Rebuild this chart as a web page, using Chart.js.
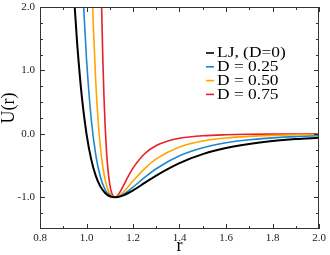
<!DOCTYPE html>
<html>
<head>
<meta charset="utf-8">
<script src="https://cdn.jsdelivr.net/npm/chart.js@4/dist/chart.umd.min.js"></script>
<style>
  body { margin: 0; background: #fff; }
  #wrap { width: 330px; height: 255px; }
</style>
</head>
<body>
<div id="wrap"><canvas id="potChart" width="330" height="255"></canvas></div>
<script>
// Series names and colours
const seriesLabels = ['LJ, (D=0)', 'D = 0.25', 'D = 0.50', 'D = 0.75'];
const seriesColors = ['#000000', '#1f88cc', '#ffa500', '#e8202a'];

// Values: r and U(r) per curve
const ljR = [0.94, 0.95, 0.96, 0.98, 1.00, 1.02, 1.04, 1.06, 1.08, 1.10, 1.1225, 1.15, 1.20, 1.25, 1.30, 1.40, 1.50, 1.60, 1.70, 1.80, 1.90, 2.00];
const ljU = [2.61, 1.96, 1.418, 0.582, 0.0, -0.398, -0.663, -0.832, -0.932, -0.984, -1.0, -0.982, -0.891, -0.774, -0.657, -0.461, -0.320, -0.224, -0.159, -0.114, -0.083, -0.062];

const d25R = [0.98, 0.99, 1.00, 1.02, 1.04, 1.06, 1.08, 1.10, 1.1225, 1.15, 1.20, 1.25, 1.30, 1.40, 1.50, 1.60, 1.70, 1.80, 1.90, 2.00];
const d25U = [2.665, 1.843, 1.185, 0.246, -0.337, -0.685, -0.878, -0.971, -1.0, -0.971, -0.840, -0.688, -0.550, -0.345, -0.218, -0.140, -0.093, -0.063, -0.043, -0.031];

const d50R = [1.02, 1.03, 1.04, 1.05, 1.06, 1.07, 1.08, 1.09, 1.10, 1.1225, 1.14, 1.16, 1.20, 1.25, 1.30, 1.40, 1.50, 1.60, 1.70, 1.80, 1.90, 2.00];
const d50U = [2.772, 1.639, 0.811, 0.213, -0.215, -0.516, -0.721, -0.856, -0.939, -1.0, -0.976, -0.912, -0.744, -0.547, -0.395, -0.207, -0.113, -0.065, -0.039, -0.024, -0.015, -0.010];

const d75R = [1.06, 1.065, 1.07, 1.075, 1.08, 1.085, 1.09, 1.10, 1.11, 1.1225, 1.13, 1.14, 1.16, 1.18, 1.20, 1.25, 1.30, 1.35, 1.40, 1.50, 1.60, 1.70, 1.80, 2.00];
const d75U = [3.034, 2.004, 1.210, 0.602, 0.140, -0.209, -0.469, -0.795, -0.949, -1.0, -0.987, -0.942, -0.808, -0.666, -0.540, -0.313, -0.184, -0.111, -0.070, -0.030, -0.014, -0.007, -0.004, -0.001];

// Axis ticks
const xMajor = [0.8, 1.0, 1.2, 1.4, 1.6, 1.8, 2.0];
const xMinor = [0.9, 1.1, 1.3, 1.5, 1.7, 1.9];
const yMajor = [-1.0, 0.0, 1.0, 2.0];
const yMinor = [-1.25, -0.75, -0.5, -0.25, 0.25, 0.5, 0.75, 1.25, 1.5, 1.75];

const allR = [ljR, d25R, d50R, d75R];
const allU = [ljU, d25U, d50U, d75U];

const serif = '"Liberation Serif", "Times New Roman", serif';

// frame, inward ticks, axis titles and the legend inside the plot
const framePlugin = {
  id: 'frame',
  afterDraw(chart) {
    const ctx = chart.ctx;
    const a = chart.chartArea;
    const xs = chart.scales.x, ys = chart.scales.y;
    ctx.save();
    ctx.strokeStyle = '#333';
    ctx.lineWidth = 1;
    ctx.strokeRect(a.left + 0.5, a.top + 0.5, a.right - a.left - 1, a.bottom - a.top - 1);

    ctx.beginPath();
    const xTick = (v, len) => {
      const px = Math.round(xs.getPixelForValue(v)) + 0.5;
      ctx.moveTo(px, a.bottom); ctx.lineTo(px, a.bottom - len);
      ctx.moveTo(px, a.top); ctx.lineTo(px, a.top + len);
    };
    const yTick = (v, len) => {
      const py = Math.round(ys.getPixelForValue(v)) + 0.5;
      ctx.moveTo(a.left, py); ctx.lineTo(a.left + len, py);
      ctx.moveTo(a.right, py); ctx.lineTo(a.right - len, py);
    };
    xMajor.forEach(v => xTick(v, 5));
    xMinor.forEach(v => xTick(v, 3));
    yMajor.forEach(v => yTick(v, 5));
    yMinor.forEach(v => yTick(v, 3));
    ctx.stroke();

    // axis titles
    ctx.fillStyle = '#000';
    ctx.textAlign = 'center';
    ctx.textBaseline = 'middle';
    ctx.font = '18px ' + serif;
    ctx.fillText('r', (a.left + a.right) / 2, 246);
    ctx.translate(9, 108);
    ctx.rotate(-Math.PI / 2);
    ctx.fillText('U(r)', 0, 0);
    ctx.restore();

    // legend (text slightly widened like the original)
    ctx.save();
    ctx.font = '15px ' + serif;
    ctx.textBaseline = 'middle';
    ctx.textAlign = 'left';
    chart.data.datasets.forEach((ds, i) => {
      const y = 53 + i * 13.8;
      ctx.strokeStyle = ds.borderColor;
      ctx.lineWidth = 1.6;
      ctx.beginPath();
      ctx.moveTo(206, y); ctx.lineTo(214, y);
      ctx.stroke();
      ctx.save();
      ctx.translate(217, y + 0.5);
      ctx.scale(1.16, 1);
      ctx.fillStyle = '#000';
      ctx.fillText(ds.label, 0, 0);
      ctx.restore();
    });
    ctx.restore();
  }
};

const datasets = seriesLabels.map((label, i) => ({
  label: label,
  data: allR[i].map((r, j) => ({ x: r, y: allU[i][j] })),
  borderColor: seriesColors[i],
  borderWidth: i === 0 ? 2 : 1.6,
  pointRadius: 0,
  fill: false,
  cubicInterpolationMode: 'monotone'
}));

const ctx = document.getElementById('potChart').getContext('2d');
new Chart(ctx, {
  type: 'line',
  data: { datasets: datasets },
  options: {
    responsive: false,
    animation: false,
    devicePixelRatio: 1,
    layout: { padding: { top: 7, right: 11, left: 0, bottom: 0 } },
    plugins: {
      legend: { display: false },
      tooltip: { enabled: false }
    },
    scales: {
      x: {
        type: 'linear',
        min: 0.8,
        max: 2.0,
        afterBuildTicks: s => { s.ticks = xMajor.map(v => ({ value: v })); },
        afterFit: s => { s.height = 26; s.paddingLeft = 0; s.paddingRight = 0; },
        grid: { display: false, drawTicks: false },
        border: { display: false },
        ticks: {
          maxRotation: 0,
          autoSkip: false,
          padding: 3,
          color: '#222',
          font: { family: serif, size: 11 },
          callback: v => v.toFixed(1)
        }
      },
      y: {
        type: 'linear',
        min: -1.5,
        max: 2.0,
        afterBuildTicks: s => { s.ticks = yMajor.map(v => ({ value: v })); },
        afterFit: s => { s.width = 40; s.paddingTop = 0; s.paddingBottom = 0; },
        grid: { display: false, drawTicks: false },
        border: { display: false },
        ticks: {
          padding: 5,
          color: '#222',
          font: { family: serif, size: 11 },
          callback: v => v.toFixed(1)
        }
      }
    }
  },
  plugins: [framePlugin]
});
</script>
</body>
</html>
